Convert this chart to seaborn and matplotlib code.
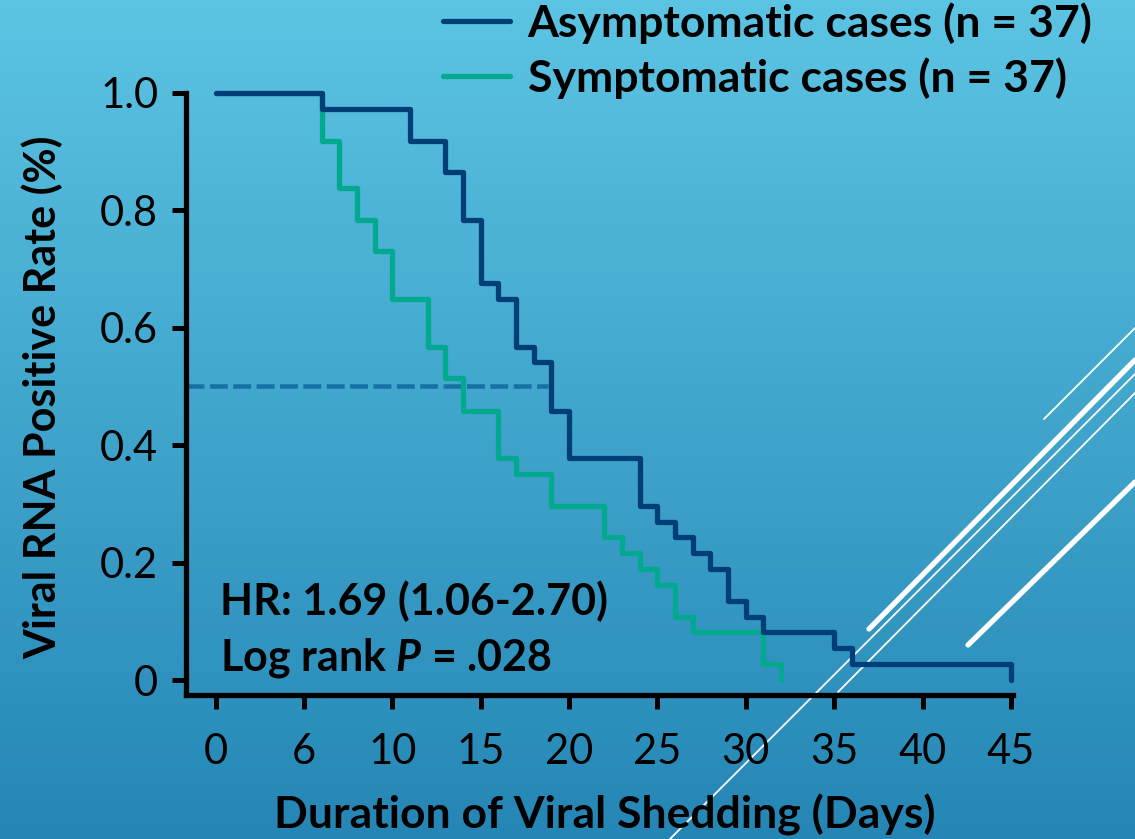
import numpy as np
import pandas as pd
import matplotlib
matplotlib.use("Agg")
import matplotlib.pyplot as plt
from matplotlib.lines import Line2D
import seaborn as sns

# ---------------- data ----------------
asym_days = [0, 6, 11, 13, 14, 15, 16, 17, 18, 19, 20, 24, 25, 26, 27, 28, 29, 30, 31, 35, 36, 45]
asym_rate = [1.0, 0.973, 0.919, 0.865, 0.784, 0.676, 0.649, 0.568, 0.541, 0.459, 0.378,
             0.297, 0.270, 0.243, 0.216, 0.189, 0.135, 0.108, 0.081, 0.054, 0.027, 0.0]
sym_days = [0, 6, 7, 8, 9, 10, 12, 13, 14, 16, 17, 19, 22, 23, 24, 25, 26, 27, 31, 32]
sym_rate = [1.0, 0.919, 0.838, 0.784, 0.730, 0.649, 0.568, 0.514, 0.459, 0.378, 0.351,
            0.297, 0.243, 0.216, 0.189, 0.162, 0.108, 0.081, 0.027, 0.0]
groups = ["Asymptomatic cases (n = 37)", "Symptomatic cases (n = 37)"]
median_level = 0.5
median_end_day = 18.8
x_ticks = [0, 5, 10, 15, 20, 25, 30, 35, 40, 45]
x_tick_labels = ["0", "6", "10", "15", "20", "25", "30", "35", "40", "45"]
y_ticks = [0, 0.2, 0.4, 0.6, 0.8, 1.0]
y_tick_labels = ["0", "0.2", "0.4", "0.6", "0.8", "1.0"]
hr_text = "HR: 1.69 (1.06-2.70)"
p_text = "Log rank $P$ = .028"

df = pd.concat([
    pd.DataFrame({"day": asym_days, "rate": asym_rate, "group": groups[0]}),
    pd.DataFrame({"day": sym_days, "rate": sym_rate, "group": groups[1]}),
], ignore_index=True)

# ---------------- style ----------------
sns.set_theme(style="white")
plt.rcParams["font.family"] = ["Lato", "DejaVu Sans"]
plt.rcParams["text.color"] = "black"
plt.rcParams["axes.labelcolor"] = "black"
plt.rcParams["mathtext.fontset"] = "custom"
plt.rcParams["mathtext.it"] = "Lato:italic:bold"
plt.rcParams["mathtext.rm"] = "Lato:bold"
plt.rcParams["mathtext.bf"] = "Lato:bold"

NAVY = "#003e78"
TEAL = "#03a98e"
DASH = "#1870a6"

W, H = 1135, 839
fig = plt.figure(figsize=(W / 100, H / 100), dpi=100)

# gradient background
bg = fig.add_axes([0, 0, 1, 1], zorder=-10)
top = np.array([0x5c, 0xc4, 0xe3]) / 255
bot = np.array([0x25, 0x86, 0xb5]) / 255
t = np.linspace(0, 1, 256)[:, None]
grad = top[None, :] * (1 - t) + bot[None, :] * t
bg.imshow(grad[:, None, :], aspect="auto", extent=[0, 1, 0, 1])
bg.set_axis_off()

def px(x, y):
    return x / W, 1 - y / H

# decorative white lines (figure pixels)
deco = [
    ((670, 839), (1135, 374), 1.3),
    ((838, 692), (1135, 393), 1.3),
    ((869, 629), (1135, 360), 3.8),
    ((1044, 419), (1135, 328), 1.3),
    ((968, 645), (1135, 482), 3.8),
]
for (x0, y0), (x1, y1), lw in deco:
    a, b = px(x0, y0)
    c, d = px(x1, y1)
    fig.add_artist(Line2D([a, c], [b, d], transform=fig.transFigure, color="white",
                          lw=lw, solid_capstyle="round", zorder=-5))

# main axes: left spine at x=186px, x-axis at y=695px, top at y=93px, right at 1013px
L, R, T, B = 186, 1013, 93, 695
ax = fig.add_axes([L / W, 1 - B / H, (R - L) / W, (B - T) / H])
ax.set_facecolor("none")
ax.patch.set_alpha(0)

sns.lineplot(data=df[df.group == groups[1]], x="day", y="rate", color=TEAL,
             drawstyle="steps-post", estimator=None, sort=False, lw=3.8, ax=ax,
             label=groups[1], clip_on=False)
sns.lineplot(data=df[df.group == groups[0]], x="day", y="rate", color=NAVY,
             drawstyle="steps-post", estimator=None, sort=False, lw=3.8, ax=ax,
             label=groups[0], clip_on=False)

x0px = 215.7
pxday = 17.67
xmin = (L - x0px) / pxday
xmax = (R - x0px) / pxday
ax.set_xlim(xmin, xmax)
ax.set_ylim(-(B - 680) / 587, 1.0)

ax.hlines(median_level, xmin, median_end_day, colors=DASH, lw=3.3,
          linestyles=(0, (3.9, 1.2)), zorder=1)

for s in ["top", "right"]:
    ax.spines[s].set_visible(False)
for s in ["left", "bottom"]:
    ax.spines[s].set_color("black")
    ax.spines[s].set_linewidth(3.8)
    ax.spines[s].set_capstyle("projecting")

ax.set_xticks(x_ticks)
ax.set_xticklabels(x_tick_labels)
ax.set_yticks(y_ticks)
ax.set_yticklabels(y_tick_labels)
ax.tick_params(axis="both", which="major", direction="out", length=10, width=3.6,
               color="black", labelsize=30, labelcolor="black")
ax.tick_params(axis="x", pad=17)
ax.tick_params(axis="y", pad=10)
ax.tick_params(left=True, bottom=True)

ax.set_xlabel("Duration of Viral Shedding (Days)", fontsize=32, fontweight="bold",
              color="black")
ax.set_ylabel("Viral RNA Positive Rate (%)", fontsize=31, fontweight="bold",
              color="black")
ax.xaxis.set_label_coords((605 - L) / (R - L), (B - 815) / (B - T))
ax.xaxis.label.set_va("center")
ax.yaxis.set_label_coords((42 - L) / (R - L), (B - 397) / (B - T))
ax.yaxis.label.set_va("center")

ax.text(0.25, 0.111, hr_text, fontsize=31, fontweight="bold", color="black",
        va="baseline", ha="left")
ax.text(0.25, 0.017, p_text, fontsize=31, fontweight="bold", color="black",
        va="baseline", ha="left")

# legend (asymptomatic first)
handles, labels = ax.get_legend_handles_labels()
order = [labels.index(g) for g in groups]
leg = ax.legend([handles[i] for i in order], [labels[i] for i in order],
                loc="upper left", bbox_to_anchor=px(441, 0), bbox_transform=fig.transFigure,
                frameon=False, prop={"family": "Lato", "weight": "bold", "size": 32},
                handlelength=1.5, handletextpad=0.4, labelspacing=0.3,
                borderaxespad=0, borderpad=0.05)
for lh in leg.get_lines():
    lh.set_linewidth(3.8)
for txt in leg.get_texts():
    txt.set_color("black")

fig.savefig("out.png", dpi=100)
